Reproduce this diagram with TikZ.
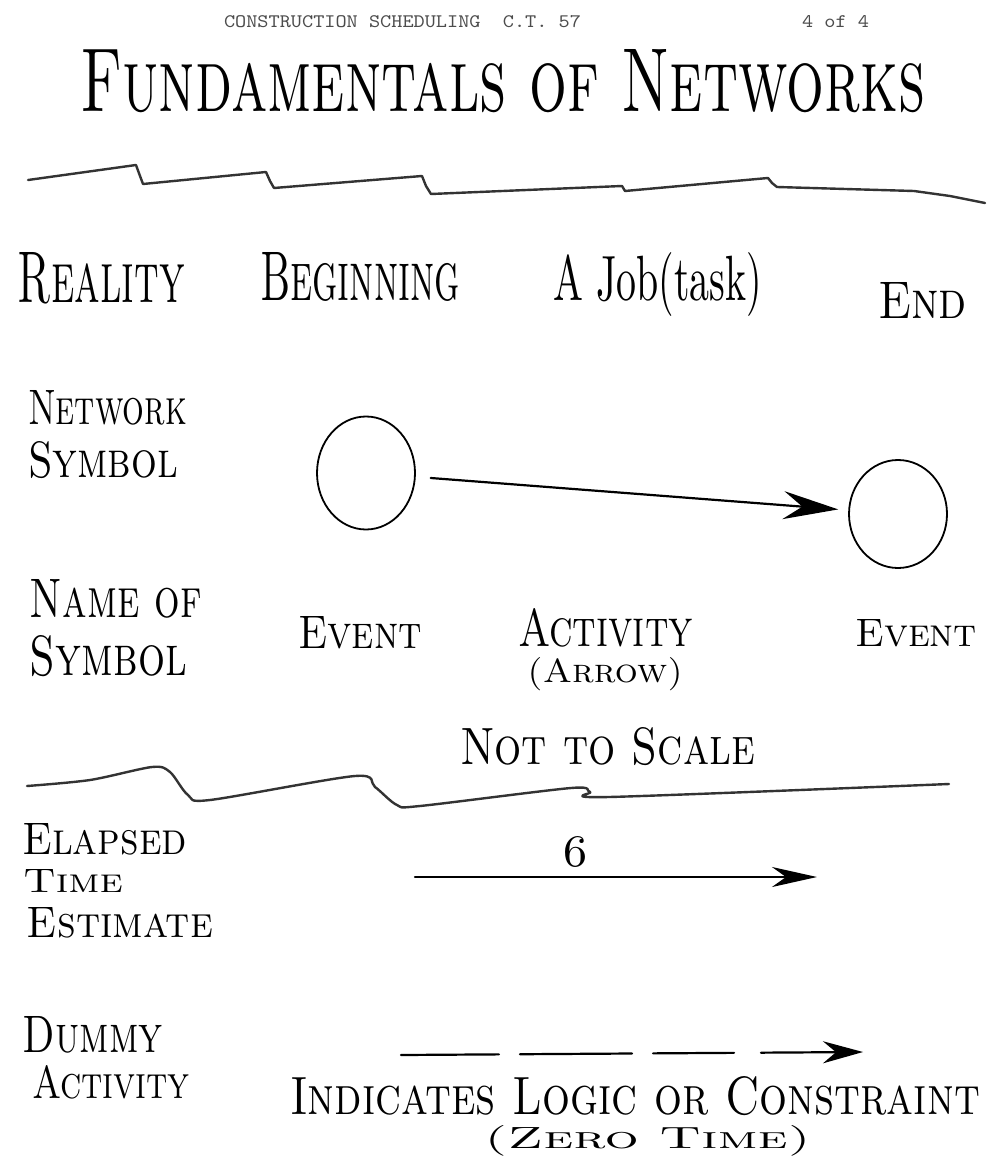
\documentclass[tikz,border=0pt]{standalone}
\usepackage{graphicx}
\usetikzlibrary{arrows.meta,shapes.geometric}
\newcommand\hw[4][\scshape]{\resizebox{#2pt}{#3pt}{#1#4}}
\begin{document}
\begin{tikzpicture}[x=1pt,y=-1pt,
  lbl/.style={anchor=base west,inner sep=0pt,outer sep=0pt},
  eventnode/.style={draw,ellipse,line width=1.8pt,inner sep=0pt,minimum width=98pt,minimum height=113pt},
  shaft/.style={line width=2.2pt,line cap=round},
  rule/.style={line width=2.4pt,black!80,line cap=round,line join=round},
  bigtip/.style={-{Stealth[length=55pt,width=28pt,inset=19pt]}},
  midtip/.style={-{Stealth[length=45pt,width=20pt,inset=14pt]}},
  smalltip/.style={-{Stealth[length=40pt,width=22pt,inset=13pt]}}]
\fill[white] (0,0) rectangle (990,1158);
\useasboundingbox (0,0) rectangle (990,1158);
% header
\node[lbl,text=black!70] (hdr) at (224,28) {\resizebox{357pt}{12pt}{\ttfamily CONSTRUCTION SCHEDULING\ \ C.T. 57}};
\node[lbl,text=black!70] (pg) at (802,28) {\resizebox{67pt}{12pt}{\ttfamily 4 of 4}};
% title
\node[lbl] (title) at (80,112) {\hw{845}{62}{Fundamentals of Networks}};
% rule 1
\draw[rule] (28,180) -- (136,165) -- (140,176) -- (143,184) -- (266,172) -- (270,181) -- (274,188) -- (422,176) -- (426,186) -- (431,194) -- (622,186) -- (625,191) -- (768,178) -- (772,183) -- (777,187) -- (914,191) -- (950,196) -- (985,203);
% row 1
\node[lbl] (reality) at (18,302) {\hw{167}{50}{Reality}};
\node[lbl] (begin) at (260,300) {\hw{200}{48}{Beginning}};
\node[lbl] (job) at (553,300) {\hw[\upshape]{209}{48}{A Job(task)}};
\node[lbl] (end) at (878,318) {\hw{89}{36}{End}};
% row 2
\node[lbl] (net) at (28,424) {\hw{159}{34}{Network}};
\node[lbl] (sym1) at (28,477) {\hw{150}{36}{Symbol}};
\node[eventnode] (c1) at (366,473) {};
\node[eventnode,minimum height=108pt] (c2) at (898,514) {};
\draw[shaft,bigtip,shorten <=15pt,shorten >=10pt] (c1) -- (c2);
% row 3
\node[lbl] (name) at (30,617) {\hw{172}{38}{Name of}};
\node[lbl] (sym2) at (30,675) {\hw{157}{40}{Symbol}};
\node[lbl] (ev1) at (298,648) {\hw{124}{32}{Event}};
\node[lbl] (act1) at (518,646) {\hw{175}{38}{Activity}};
\node[lbl] (arr) at (527,682) {\hw{156}{25}{(Arrow)}};
\node[lbl] (ev2) at (855,646) {\hw{122}{27}{Event}};
% not to scale
\node[lbl] (nts) at (460,764) {\hw{295}{37}{Not to Scale}};
\draw[rule] plot[smooth,tension=0.5] coordinates {(27,786) (90,780) (152,767) (170,772) (188,795) (210,800) (355,776) (375,787) (397,805) (420,806) (571,788) (590,792) (609,797) (949,784)};
% elapsed time
\node[lbl] (ela) at (22,854) {\hw{165}{31}{Elapsed}};
\node[lbl] (tim) at (23,892) {\hw{100}{23}{Time}};
\node[lbl] (est) at (27,937) {\hw{186}{30}{Estimate}};
\coordinate (e1) at (415,877);
\coordinate (e2) at (817,877);
\draw[shaft,midtip] (e1) -- (e2);
\node[lbl] (six) at (563,866) {\hw[\upshape]{24}{30}{6}};
% dummy
\node[lbl] (dum) at (23,1052) {\hw{140}{36}{Dummy}};
\node[lbl] (act2) at (32,1098) {\hw{158}{33}{Activity}};
\coordinate (d1) at (401,1055);
\coordinate (d2) at (863,1052);
\draw[shaft,smalltip,dash pattern=on 98pt off 21pt on 112pt off 21pt on 81pt off 27pt on 300pt] (d1) -- (d2);
\node[lbl] (ind) at (290,1114) {\hw{690}{38}{Indicates Logic or Constraint}};
\node[lbl] (zero) at (484,1148) {\hw{327}{23}{(Zero Time)}};
\end{tikzpicture}
\end{document}
